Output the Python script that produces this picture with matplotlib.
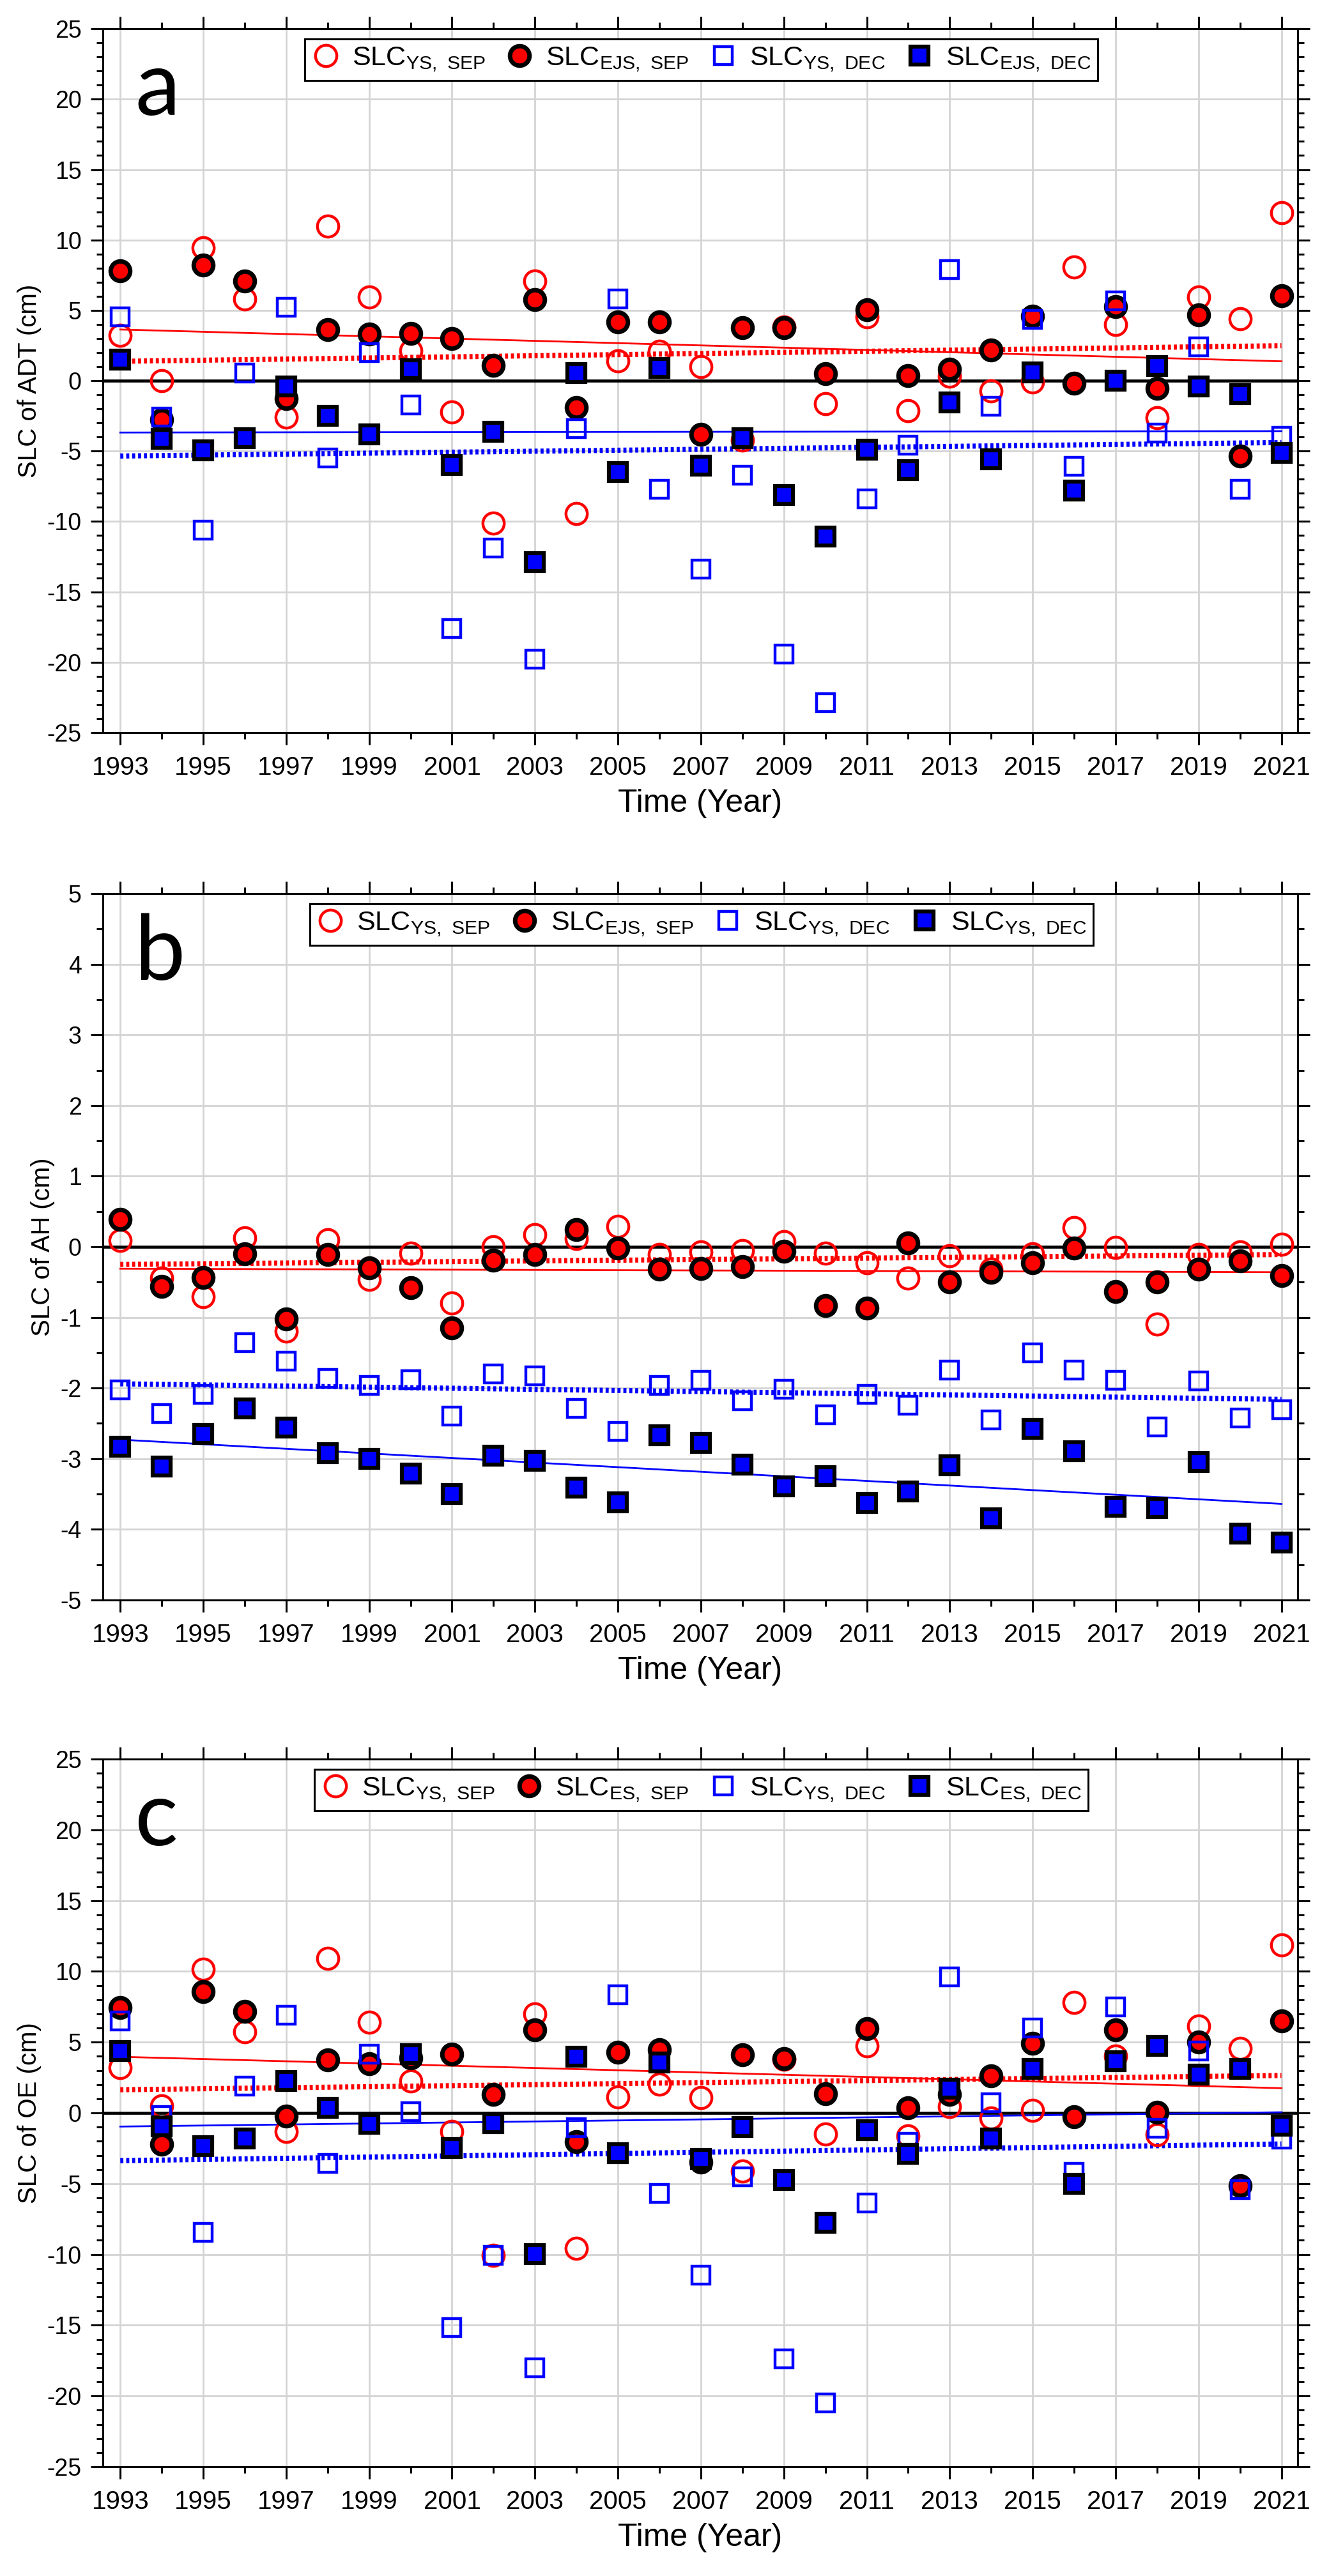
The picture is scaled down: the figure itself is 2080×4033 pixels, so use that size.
import numpy as np
import matplotlib
matplotlib.use("Agg")
import matplotlib.pyplot as plt
from matplotlib.ticker import FixedLocator, MultipleLocator

plt.rcParams['font.family'] = ['Liberation Sans', 'DejaVu Sans']
plt.rcParams['axes.unicode_minus'] = False
plt.rcParams['mathtext.default'] = 'regular'

years = np.arange(1993, 2022)

# panel a : ADT
ys_sep_a = [3.24, 0.0, 9.45, 5.8, -2.57, 11.0, 5.97, 2.13, -2.2, -10.1, 7.1, -9.43, 1.4, 2.1, 1.0,
            -4.2, 3.8, -1.62, 4.55, -2.13, 0.3, -0.7, -0.1, 8.06, 4.0, -2.63, 5.97, 4.39, 11.94]
ejs_sep_a = [7.8, -2.77, 8.2, 7.08, -1.28, 3.64, 3.3, 3.38, 3.0, 1.1, 5.77, -1.9, 4.2, 4.2, -3.83,
             3.79, 3.79, 0.5, 5.06, 0.38, 0.8, 2.17, 4.6, -0.2, 5.26, -0.55, 4.66, -5.34, 6.03]
ys_dec_a = [4.55, -2.6, -10.6, 0.55, 5.2, -5.49, 2.02, -1.7, -17.6, -11.9, -19.8, -3.42, 5.8, -7.7,
            -13.4, -6.7, -19.4, -22.85, -8.38, -4.6, 7.9, -1.82, 4.35, -6.1, 5.67, -3.7, 2.43, -7.7, -3.95]
ejs_dec_a = [1.48, -4.13, -4.96, -4.09, -0.4, -2.5, -3.83, 0.8, -5.99, -3.62, -12.9, 0.55, -6.5, 0.9,
             -6.05, -4.09, -8.1, -11.05, -4.9, -6.36, -1.52, -5.59, 0.6, -7.8, 0.0, 1.05, -0.4, -0.95, -5.14]

# panel b : AH
ys_sep_b = [0.09, -0.44, -0.71, 0.13, -1.19, 0.10, -0.46, -0.09, -0.80, 0.0, 0.17, 0.12, 0.29, -0.11,
            -0.07, -0.05, 0.07, -0.09, -0.23, -0.44, -0.13, -0.32, -0.10, 0.27, -0.01, -1.09, -0.11, -0.07, 0.04]
ejs_sep_b = [0.39, -0.56, -0.43, -0.10, -1.02, -0.11, -0.30, -0.58, -1.15, -0.19, -0.11, 0.24, -0.02, -0.32,
             -0.31, -0.28, -0.06, -0.83, -0.87, 0.05, -0.50, -0.36, -0.23, -0.02, -0.63, -0.50, -0.32, -0.20, -0.41]
ys_dec_b = [-2.03, -2.36, -2.09, -1.36, -1.62, -1.86, -1.96, -1.88, -2.40, -1.80, -1.83, -2.29, -2.61, -1.96,
            -1.89, -2.18, -2.02, -2.38, -2.09, -2.24, -1.75, -2.45, -1.50, -1.75, -1.89, -2.55, -1.90, -2.42, -2.31]
ejs_dec_b = [-2.83, -3.11, -2.65, -2.29, -2.56, -2.92, -3.0, -3.21, -3.5, -2.96, -3.03, -3.41, -3.62, -2.67,
             -2.78, -3.08, -3.39, -3.25, -3.63, -3.46, -3.09, -3.84, -2.58, -2.89, -3.68, -3.70, -3.05, -4.06, -4.19]

# panel c : OE
ys_sep_c = [3.2, 0.52, 10.18, 5.72, -1.31, 10.92, 6.40, 2.24, -1.31, -10.07, 6.98, -9.58, 1.15, 2.05, 1.07,
            -4.10, 3.8, -1.50, 4.76, -1.64, 0.47, -0.36, 0.19, 7.80, 4.02, -1.53, 6.13, 4.57, 11.87]
ejs_sep_c = [7.44, -2.22, 8.59, 7.17, -0.22, 3.75, 3.47, 3.89, 4.16, 1.29, 5.85, -2.05, 4.30, 4.49, -3.45,
             4.10, 3.83, 1.34, 5.94, 0.38, 1.29, 2.60, 4.90, -0.27, 5.88, 0.05, 5.03, -5.14, 6.48]
ys_dec_c = [6.48, -0.2, -8.43, 1.92, 6.89, -3.56, 4.16, 0.11, -15.18, -10.07, -18.0, -1.04, 8.34, -5.69,
            -11.44, -4.51, -17.37, -20.47, -6.37, -2.08, 9.63, 0.74, 6.02, -4.19, 7.50, -1.09, 4.38, -5.42, -1.86]
ejs_dec_c = [4.38, -0.96, -2.35, -1.81, 2.24, 0.38, -0.77, 4.16, -2.49, -0.71, -9.99, 3.97, -2.82, 3.56,
             -3.23, -0.98, -4.73, -7.74, -1.23, -2.90, 1.70, -1.78, 3.12, -5.0, 3.67, 4.76, 2.71, 3.12, -0.90]

# trend lines (value at 1993, value at 2021)
trend_years = [1993, 2021]
red_solid = [[3.64, 1.38], [-0.31, -0.36], [3.97, 1.75]]
red_dot = [[1.38, 2.49], [-0.25, -0.11], [1.64, 2.65]]
blue_solid = [[-3.68, -3.58], [-2.73, -3.64], [-0.96, 0.05]]
blue_dot = [[-5.35, -4.39], [-1.94, -2.16], [-3.37, -2.19]]

letters = ['a', 'b', 'c']
ylabels = ['SLC of ADT (cm)', 'SLC of AH (cm)', 'SLC of OE (cm)']
legend_labels = [
    [r'SLC$_{YS,\ SEP}$', r'SLC$_{EJS,\ SEP}$', r'SLC$_{YS,\ DEC}$', r'SLC$_{EJS,\ DEC}$'],
    [r'SLC$_{YS,\ SEP}$', r'SLC$_{EJS,\ SEP}$', r'SLC$_{YS,\ DEC}$', r'SLC$_{YS,\ DEC}$'],
    [r'SLC$_{YS,\ SEP}$', r'SLC$_{ES,\ SEP}$', r'SLC$_{YS,\ DEC}$', r'SLC$_{ES,\ DEC}$'],
]
series = [
    (ys_sep_a, ejs_sep_a, ys_dec_a, ejs_dec_a),
    (ys_sep_b, ejs_sep_b, ys_dec_b, ejs_dec_b),
    (ys_sep_c, ejs_sep_c, ys_dec_c, ejs_dec_c),
]
ylims = [(-25, 25), (-5, 5), (-25, 25)]
ysteps = [(5, 1), (1, 0.5), (5, 1)]

boxes = [[0.0774, 0.7156, 0.899, 0.2732],
         [0.0774, 0.3789, 0.899, 0.2742],
         [0.0774, 0.0424, 0.899, 0.2747]]

RED = '#ff0000'
BLUE = '#0000ff'

fig = plt.figure(figsize=(20.8, 40.33), dpi=100)

for i in range(3):
    ax = fig.add_axes(boxes[i])
    s1, s2, s3, s4 = series[i]
    lab = legend_labels[i]

    ax.axhline(0, color='k', lw=3.4, zorder=2)
    ax.plot(trend_years, red_solid[i], color=RED, lw=2.0, zorder=3)
    ax.plot(trend_years, red_dot[i], color=RED, lw=5.8, ls=(0, (0.6, 0.55)), zorder=3)
    ax.plot(trend_years, blue_solid[i], color=BLUE, lw=2.0, zorder=3)
    ax.plot(trend_years, blue_dot[i], color=BLUE, lw=5.8, ls=(0, (0.6, 0.55)), zorder=3)

    ax.plot(years, s1, ls='none', marker='o', ms=24, mfc='none', mec=RED, mew=3.2, zorder=4, label=lab[0])
    ax.plot(years, s2, ls='none', marker='o', ms=22, mfc=RED, mec='k', mew=5, zorder=5, label=lab[1])
    ax.plot(years, s3, ls='none', marker='s', ms=20, mfc='none', mec=BLUE, mew=3.2, zorder=6, label=lab[2])
    ax.plot(years, s4, ls='none', marker='s', ms=19.5, mfc=BLUE, mec='k', mew=4.5, zorder=7, label=lab[3])

    ax.set_xlim(1992.58, 2021.39)
    ax.set_ylim(*ylims[i])
    ax.xaxis.set_major_locator(FixedLocator(years[::2]))
    ax.xaxis.set_minor_locator(FixedLocator(years[1::2]))
    ax.yaxis.set_major_locator(MultipleLocator(ysteps[i][0]))
    ax.yaxis.set_minor_locator(MultipleLocator(ysteps[i][1]))
    ax.grid(True, which='major', color='#d4d4d4', lw=2, zorder=0)
    ax.set_axisbelow(True)

    for sp in ax.spines.values():
        sp.set_linewidth(2.2)
    ax.tick_params(which='both', direction='out', top=True, right=True, width=2.2)
    ax.tick_params(which='major', length=14)
    ax.tick_params(which='minor', length=7.5)
    ax.tick_params(axis='x', which='major', labelsize=29, pad=12)
    ax.tick_params(axis='y', which='major', labelsize=27, pad=10)

    ax.set_xlabel('Time (Year)', fontsize=36, labelpad=10)
    ax.set_ylabel(ylabels[i], fontsize=29, labelpad=6)

    ax.text(0.027, 0.878, letters[i], transform=ax.transAxes, fontsize=102,
            family=['Lato', 'DejaVu Sans'], ha='left', va='baseline', zorder=10)

    leg = ax.legend(loc='upper center', bbox_to_anchor=(0.501, 0.986), ncol=4, fontsize=31,
                    frameon=True, fancybox=False, edgecolor='k', framealpha=1,
                    handlelength=1.0, handletextpad=0.45, columnspacing=0.75,
                    borderpad=0.25, borderaxespad=0)
    leg.get_frame().set_linewidth(2.2)
    leg.set_zorder(20)

fig.savefig('out.png', dpi=100, facecolor='white')
